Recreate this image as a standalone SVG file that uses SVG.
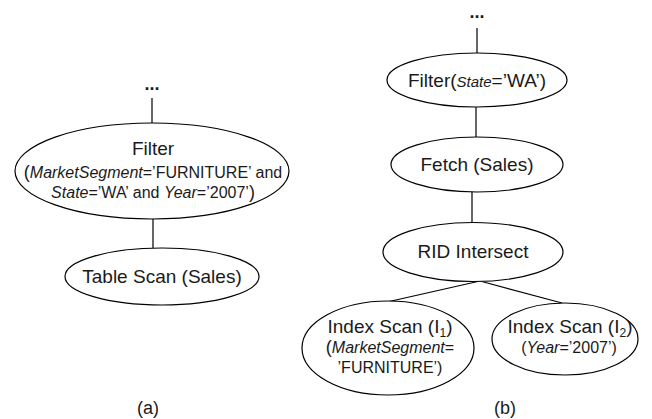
<svg xmlns="http://www.w3.org/2000/svg" width="652" height="419" viewBox="0 0 652 419">
<style>
.n{fill:#fff;stroke:#000;stroke-width:1.2}
.e{stroke:#000;stroke-width:1.2;fill:none}
text{font-family:"Liberation Sans",Arial,sans-serif;fill:#1a1a1a;text-anchor:middle}
.h{font-size:19px}
.s{font-size:16px}
.i{font-style:italic}
.sub{font-size:12px}
.dots{font-size:18px;font-weight:bold}
.lab{font-size:18px}
</style>
<rect width="652" height="419" fill="#fff"/>
<g id="connectors">
<line class="e" x1="152" y1="98" x2="152" y2="123"/>
<line class="e" x1="153" y1="219" x2="153" y2="248"/>
<line class="e" x1="477" y1="28" x2="477" y2="53"/>
<line class="e" x1="476" y1="107" x2="476" y2="137"/>
<line class="e" x1="472" y1="192" x2="472" y2="223"/>
<line class="e" x1="480" y1="281" x2="387" y2="302"/>
<line class="e" x1="480" y1="281" x2="562" y2="303"/>
</g>
<g id="a-dots"><text class="dots" x="152" y="90">...</text></g>
<g id="a-filter">
<ellipse class="n" cx="152" cy="171" rx="137" ry="48"/>
<text class="h" x="153" y="155">Filter</text>
<text class="s" x="153" y="178"><tspan style="font-size:18px">(</tspan><tspan class="i">MarketSegment</tspan>=’FURNITURE’ and</text>
<text class="s" x="153" y="198"><tspan class="i">State</tspan>=’WA’ and <tspan class="i">Year</tspan>=’2007’<tspan style="font-size:18px">)</tspan></text>
</g>
<g id="a-tablescan">
<ellipse class="n" cx="162" cy="276.5" rx="97" ry="28.5"/>
<text class="h" x="162" y="283">Table Scan (Sales)</text>
</g>
<g id="b-dots"><text class="dots" x="477" y="18">...</text></g>
<g id="b-filter">
<ellipse class="n" cx="477" cy="80" rx="90" ry="27"/>
<text class="h" x="477" y="87">Filter(<tspan class="i" style="font-size:15px">State</tspan>=’WA’)</text>
</g>
<g id="b-fetch">
<ellipse class="n" cx="477" cy="164.5" rx="86" ry="27.5"/>
<text class="h" x="477" y="171">Fetch (Sales)</text>
</g>
<g id="b-rid">
<ellipse class="n" cx="473" cy="252" rx="90" ry="29.5"/>
<text class="h" x="473" y="258">RID Intersect</text>
</g>
<g id="b-index1">
<ellipse class="n" cx="388" cy="348" rx="86" ry="47"/>
<text class="h" x="390" y="333">Index Scan (I<tspan class="sub" dy="4">1</tspan><tspan dy="-4">)</tspan></text>
<text class="s" x="390" y="353"><tspan style="font-size:18px">(</tspan><tspan class="i">MarketSegment</tspan>=</text>
<text class="s" x="390" y="373">’FURNITURE’)</text>
</g>
<g id="b-index2">
<ellipse class="n" cx="565" cy="339" rx="73" ry="36"/>
<text class="h" x="570" y="333">Index Scan (I<tspan class="sub" dy="4">2</tspan><tspan dy="-4">)</tspan></text>
<text class="s" x="569" y="353">(<tspan class="i">Year</tspan>=’2007’)</text>
</g>
<g id="labels">
<text class="lab" x="148" y="414">(a)</text>
<text class="lab" x="505" y="414">(b)</text>
</g>
</svg>
